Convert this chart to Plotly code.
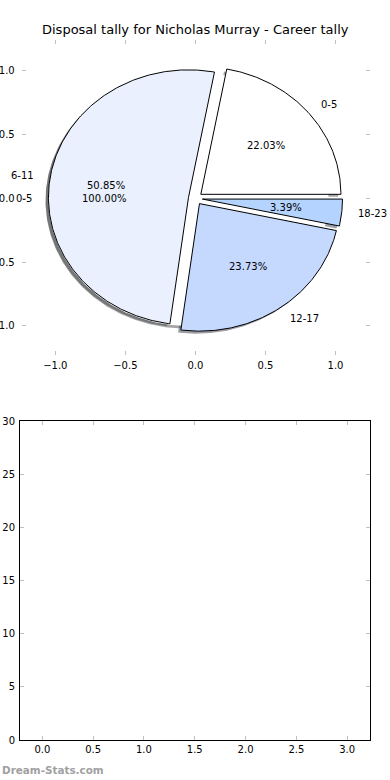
import numpy as np
import plotly.graph_objects as go

# ---------------- data ----------------
title_text = "Disposal tally for Nicholas Murray - Career tally"
slice_labels = ["0-5", "6-11", "12-17", "18-23"]
slice_counts = [13, 30, 14, 2]
slice_colors = ["#ffffff", "#eaf0fe", "#c5d8fe", "#b4d3fe"]
slice_explode = [0.05, 0.05, 0.05, 0.05]

# degenerate overlay pie (single 100% slice)
overlay_labels = ["0-5"]
overlay_counts = [1]
overlay_colors = ["#ffffff"]
overlay_explode = [0.05]

pie_ticks = [-1.0, -0.5, 0.0, 0.5, 1.0]
bar_x_ticks = [0.0, 0.5, 1.0, 1.5, 2.0, 2.5, 3.0]
bar_y_ticks = [0, 5, 10, 15, 20, 25, 30]
watermark = "Dream-Stats.com"

W, H = 390, 780
SHADOW = (-0.02, -0.02)


def hex_rgb(h):
    h = h.lstrip("#")
    return tuple(int(h[i:i + 2], 16) for i in (0, 2, 4))


def wedges(counts, explode):
    total = float(sum(counts))
    out = []
    t = 0.0
    for c, e in zip(counts, explode):
        t1 = t
        t2 = t + 360.0 * c / total
        mid = np.deg2rad((t1 + t2) / 2)
        cx, cy = e * np.cos(mid), e * np.sin(mid)
        out.append((t1, t2, cx, cy, mid, c / total))
        t = t2
    return out


def wedge_path(t1, t2, cx, cy, dx=0.0, dy=0.0):
    n = max(8, int(abs(t2 - t1) * 1.5))
    ang = np.deg2rad(np.linspace(t1, t2, n))
    xs = cx + dx + np.cos(ang)
    ys = cy + dy + np.sin(ang)
    if abs(t2 - t1) < 359.999:
        xs = np.concatenate([[cx + dx], xs, [cx + dx]])
        ys = np.concatenate([[cy + dy], ys, [cy + dy]])
    return xs, ys


fig = go.Figure()

main = wedges(slice_counts, slice_explode)
over = wedges(overlay_counts, overlay_explode)

# shadows (below everything)
for (t1, t2, cx, cy, mid, frac), col in list(zip(over, overlay_colors)) + list(zip(main, slice_colors)):
    r, g, b = hex_rgb(col)
    sc = "rgba(%d,%d,%d,0.5)" % (r * 0.3, g * 0.3, b * 0.3)
    xs, ys = wedge_path(t1, t2, cx, cy, *SHADOW)
    fig.add_trace(go.Scatter(x=xs, y=ys, mode="lines", fill="toself", fillcolor=sc,
                             line=dict(width=0, color=sc), hoverinfo="skip",
                             showlegend=False, xaxis="x", yaxis="y"))

# overlay white ellipse (no edge)
for (t1, t2, cx, cy, mid, frac), col in zip(over, overlay_colors):
    xs, ys = wedge_path(t1, t2, cx, cy)
    fig.add_trace(go.Scatter(x=xs, y=ys, mode="lines", fill="toself", fillcolor=col,
                             line=dict(width=0, color=col), hoverinfo="skip",
                             showlegend=False, xaxis="x", yaxis="y"))

# main wedges
for (t1, t2, cx, cy, mid, frac), col in zip(main, slice_colors):
    xs, ys = wedge_path(t1, t2, cx, cy)
    fig.add_trace(go.Scatter(x=xs, y=ys, mode="lines", fill="toself", fillcolor=col,
                             line=dict(width=1, color="black"), hoverinfo="skip",
                             showlegend=False, xaxis="x", yaxis="y"))

annotations = []
FONT = "DejaVu Sans"


def add_texts(ws, labels):
    for (t1, t2, cx, cy, mid, frac), lab in zip(ws, labels):
        px, py = cx + 0.6 * np.cos(mid), cy + 0.6 * np.sin(mid)
        annotations.append(dict(x=px, y=py, xref="x", yref="y", text="%.2f%%" % (frac * 100),
                                showarrow=False, xanchor="center", yanchor="middle",
                                font=dict(size=10, color="black", family=FONT)))
        lx, ly = cx + 1.1 * np.cos(mid), cy + 1.1 * np.sin(mid)
        annotations.append(dict(x=lx, y=ly, xref="x", yref="y", text=lab,
                                showarrow=False, xanchor="left" if lx > 0 else "right",
                                yanchor="middle",
                                font=dict(size=10, color="black", family=FONT)))


add_texts(over, overlay_labels)
add_texts(main, slice_labels)

annotations.append(dict(x=0.5, y=(H - 30) / H, xref="paper", yref="paper", text=title_text,
                        showarrow=False, xanchor="center", yanchor="middle",
                        font=dict(size=13, color="black", family=FONT)))
annotations.append(dict(x=0.0, y=(H - 770) / H, xref="paper", yref="paper", text="<b>" + watermark + "</b>",
                        showarrow=False, xanchor="left", yanchor="middle",
                        font=dict(size=10.4, color="#a0a0a0", family=FONT)))

tick_common = dict(ticks="inside", ticklen=4, tickwidth=1, tickcolor="#c0c0c0",
                   showgrid=False, zeroline=False, automargin=False,
                   tickfont=dict(size=10, color="black", family=FONT), fixedrange=True)

fig.update_layout(
    width=W, height=H, margin=dict(l=0, r=0, t=0, b=0),
    paper_bgcolor="white", plot_bgcolor="white", showlegend=False,
    annotations=annotations,
    xaxis=dict(domain=[21.7 / W, 370 / W], range=[-1.24, 1.246], tickvals=pie_ticks,
               tickformat=".1f", showline=False, mirror="ticks", anchor="y",
               ticklabelstandoff=3, **tick_common),
    yaxis=dict(domain=[(H - 355) / H, (H - 40) / H], range=[-1.228, 1.242], tickvals=pie_ticks,
               tickformat=".1f", showline=False, mirror="ticks", anchor="x",
               ticklabelstandoff=6, **tick_common),
    xaxis2=dict(domain=[20 / W, 370 / W], range=[-0.22, 3.225], tickvals=bar_x_ticks,
                tickformat=".1f", showline=True, linecolor="black", linewidth=1,
                mirror="allticks", anchor="y2", **tick_common),
    yaxis2=dict(domain=[(H - 740) / H, (H - 421) / H], range=[0, 30], tickvals=bar_y_ticks,
                tickformat="d", showline=True, linecolor="black", linewidth=1,
                mirror="allticks", anchor="x2", ticklabelstandoff=2, **tick_common),
)

# keep the (empty) lower axes visible
fig.add_trace(go.Scatter(x=[], y=[], xaxis="x2", yaxis="y2", showlegend=False))

fig.write_html("out.html", config=dict(displayModeBar=False),
               post_script="document.body.style.margin='0';document.body.style.overflow='hidden';")
